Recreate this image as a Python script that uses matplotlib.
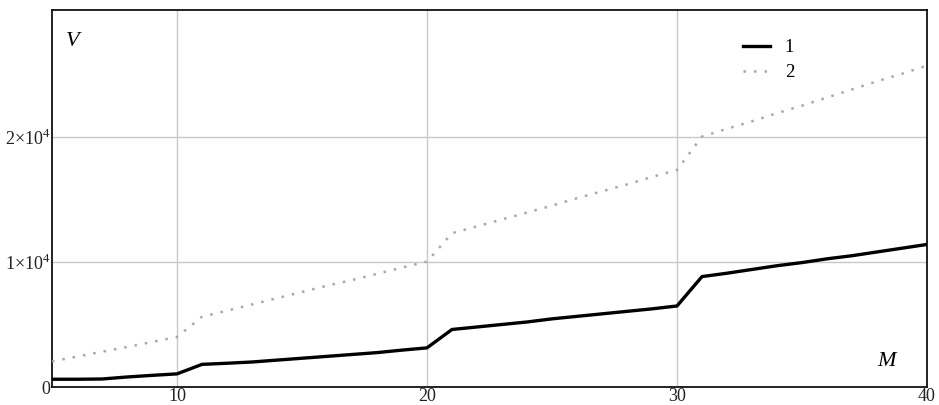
import matplotlib
matplotlib.use("Agg")
import matplotlib.pyplot as plt
from matplotlib.ticker import FixedLocator, FixedFormatter

# M values and the two curves
m_values = list(range(5, 41))
v_curve1 = [620, 620, 640, 800, 930, 1050,
            1810, 1900, 2000, 2150, 2300, 2450, 2600, 2750, 2950, 3130,
            4600, 4800, 5000, 5200, 5450, 5650, 5850, 6050, 6250, 6480,
            8830, 9100, 9400, 9700, 9950, 10250, 10500, 10800, 11100, 11400]
v_curve2 = [2050, 2430, 2820, 3200, 3600, 4000,
            5620, 6100, 6600, 7100, 7600, 8100, 8550, 9050, 9550, 10030,
            12300, 12850, 13400, 13950, 14500, 15100, 15650, 16200, 16800, 17360,
            20030, 20650, 21250, 21900, 22500, 23150, 23800, 24450, 25050, 25700]

y_ticks = [0, 1e4, 2e4]
y_tick_labels = ["0", r"1$\times$10$^4$", r"2$\times$10$^4$"]
x_ticks = [10, 20, 30, 40]
x_tick_labels = ["10", "20", "30", "40"]

plt.rcParams["font.family"] = ["Liberation Serif", "DejaVu Serif"]
plt.rcParams["mathtext.fontset"] = "custom"
plt.rcParams["mathtext.rm"] = "Liberation Serif"

fig = plt.figure(figsize=(9.39, 4.05), dpi=100)
ax = fig.add_axes([52 / 939, 18 / 405, 875 / 939, 377 / 405])

ax.plot(m_values, v_curve1, color="black", lw=2.4, label="1", zorder=3)
ax.plot(m_values, v_curve2, color="#a8a8a8", lw=1.8, linestyle=(0, (1, 3.2)),
        label="2", zorder=3)

ax.set_xlim(5, 40)
ax.set_ylim(0, 30150)

ax.xaxis.set_major_locator(FixedLocator(x_ticks))
ax.xaxis.set_major_formatter(FixedFormatter(x_tick_labels))
ax.yaxis.set_major_locator(FixedLocator(y_ticks))
ax.yaxis.set_major_formatter(FixedFormatter(y_tick_labels))
ax.tick_params(axis="x", length=0, labelsize=13, colors="#222222", pad=1)
ax.tick_params(axis="y", length=0, labelsize=13, colors="#222222", pad=1)

ax.grid(True, color="#c8c8c8", lw=1.0)
ax.set_axisbelow(True)
for s in ax.spines.values():
    s.set_linewidth(1.3)
    s.set_color("#111111")

ax.text(0.016, 0.905, "V", transform=ax.transAxes, fontsize=16, style="italic")
ax.text(0.943, 0.055, "M", transform=ax.transAxes, fontsize=16, style="italic")

ax.legend(loc="upper left", bbox_to_anchor=(0.77, 0.968), frameon=False,
          fontsize=13.5, handlelength=1.45, handletextpad=0.8, labelspacing=0.42)

fig.savefig("out.png", dpi=100)
